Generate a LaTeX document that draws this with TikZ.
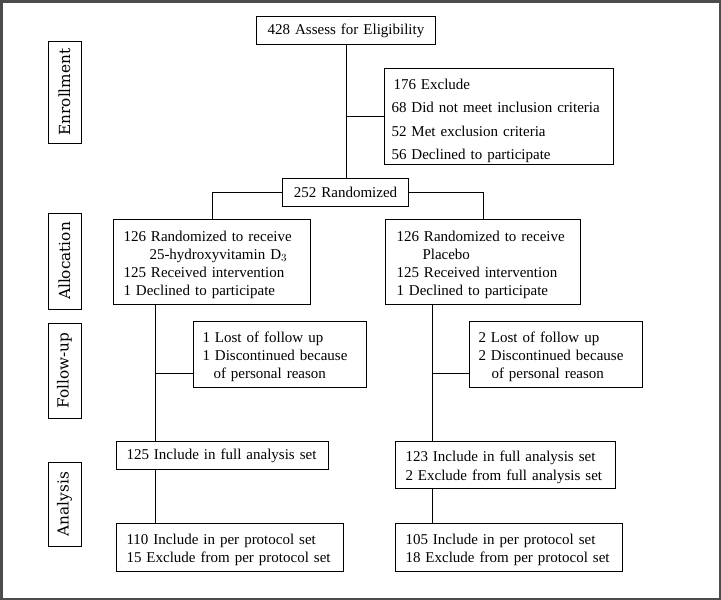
\documentclass[tikz,border=0pt]{standalone}
\usepackage{fontspec}
\setmainfont{Liberation Serif}
\newfontfamily\sidefont{DejaVu Serif}
\usetikzlibrary{calc}

\tikzset{
  box/.style={draw, line width=1pt, anchor=north west, align=left, inner ysep=0pt,
    font=\fontsize{15}{18}\selectfont},
  single/.style={box, align=center},
  stage/.style={draw, line width=1pt, rotate=90, inner sep=0pt,
    font=\sidefont\fontsize{15.3}{18}\selectfont},
  link/.style={line width=1pt}
}

\begin{document}
\begin{tikzpicture}[x=1pt,y=-1pt]

\useasboundingbox(0,0) rectangle (721,600);
\draw[line width=2.5pt, black!70](1.25,1.25) rectangle (719.75,598.75);

% stages
\node[stage, minimum width=102, minimum height=33](enroll) at (64.5,92) {Enrollment};
\node[stage, minimum width=96, minimum height=33](alloc) at (64.5,261) {Allocation};
\node[stage, minimum width=95, minimum height=33](follow) at (64.5,370.5) {Follow-up};
\node[stage, minimum width=84, minimum height=33](analysis) at (64.5,504) {Analysis};

% enrollment
\node[single, text width=171, inner xsep=4, minimum height=28](assess) at (256,16) {428 Assess for Eligibility};
\node[box, text width=215, inner xsep=7, minimum height=96, font=\fontsize{15}{23.5}\selectfont](exclude) at (384,68)
  {\rule{0pt}{19.5pt}\hspace*{2pt}176 Exclude\\68 Did not meet inclusion criteria\\52 Met exclusion criteria\\56 Declined to participate};
\node[single, text width=118, inner xsep=4, minimum height=28](random) at (282,178) {252 Randomized};

% allocation
\node[box, text width=181, inner xsep=8, minimum height=85](allocL) at (113,219)
  {\rule{0pt}{16.5pt}\hspace*{2pt}126 Randomized to receive\\\hspace*{28pt}25-hydroxyvitamin D$_3$\\\hspace*{2pt}125 Received intervention\\\hspace*{2pt}1 Declined to participate};
\node[box, text width=179, inner xsep=8, minimum height=85](allocR) at (385,219)
  {\rule{0pt}{16.5pt}\hspace*{3pt}126 Randomized to receive\\\hspace*{29pt}Placebo\\\hspace*{3pt}125 Received intervention\\\hspace*{3pt}1 Declined to participate};

% follow-up
\node[box, text width=159, inner xsep=7, minimum height=66](fuL) at (193,321)
  {\rule{0pt}{14.5pt}\hspace*{2pt}1 Lost of follow up\\\hspace*{2pt}1 Discontinued because\\\hspace*{13pt}of personal reason};
\node[box, text width=159, inner xsep=7, minimum height=66](fuR) at (469,321)
  {\rule{0pt}{14.5pt}\hspace*{2pt}2 Lost of follow up\\\hspace*{2pt}2 Discontinued because\\\hspace*{15pt}of personal reason};

% analysis
\node[box, text width=198, inner xsep=7, minimum height=28](fasL) at (116,441)
  {\hspace*{3pt}125 Include in full analysis set};
\node[box, text width=206, inner xsep=7, minimum height=47, font=\fontsize{15}{19}\selectfont](fasR) at (395,441)
  {\rule{0pt}{15.5pt}\hspace*{3pt}123 Include in full analysis set\\\hspace*{3pt}2 Exclude from full analysis set};
\node[box, text width=213, inner xsep=7, minimum height=48](ppL) at (116,523)
  {\rule{0pt}{14.5pt}\hspace*{3pt}110 Include in per protocol set\\\hspace*{3pt}15 Exclude from per protocol set};
\node[box, text width=213, inner xsep=7, minimum height=48](ppR) at (395,523)
  {\rule{0pt}{14.5pt}\hspace*{3pt}105 Include in per protocol set\\\hspace*{3pt}18 Exclude from per protocol set};

\coordinate(trunkL) at (155,304);
\coordinate(trunkR) at (432,304);

\draw[link](assess.south)--(assess.south |- random.north);
\draw[link](assess.south |- exclude.west)--(exclude.west);
\draw[link](random.west)-|(allocL.north);
\draw[link](random.east)-|(allocR.north);

\draw[link](trunkL)--(trunkL |- fasL.north);
\draw[link]([yshift=15pt]fuL.south west)--([yshift=15pt]fuL.south west -| trunkL);
\draw[link](trunkL |- fasL.south)--(trunkL |- ppL.north);

\draw[link](trunkR)--(trunkR |- fasR.north);
\draw[link]([yshift=15pt]fuR.south west)--([yshift=15pt]fuR.south west -| trunkR);
\draw[link](trunkR |- fasR.south)--(trunkR |- ppR.north);

\end{tikzpicture}
\end{document}
